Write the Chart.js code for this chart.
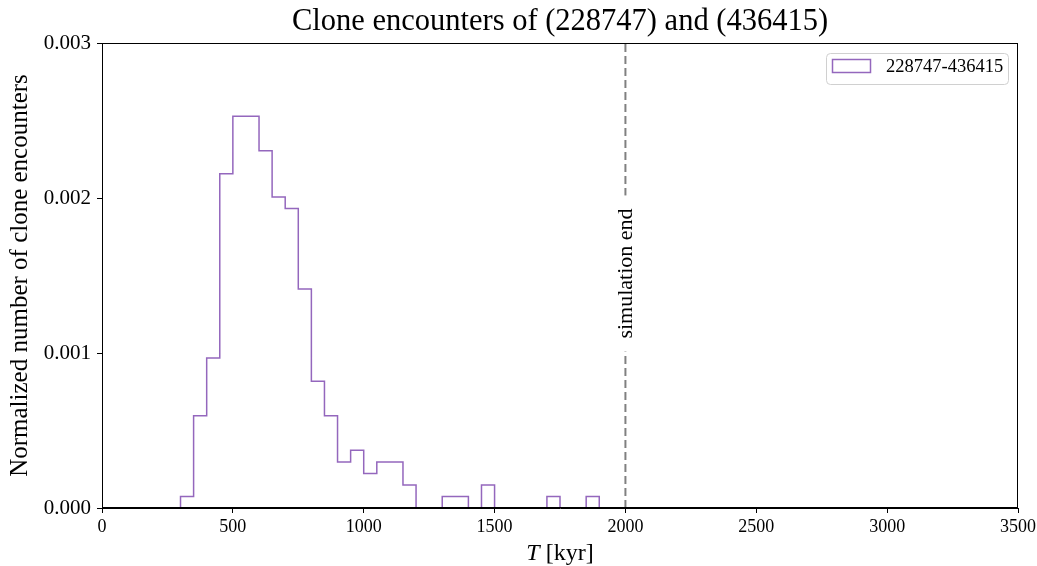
<!DOCTYPE html>
<html>
<head>
<meta charset="utf-8">
<script src="https://cdn.jsdelivr.net/npm/chart.js@4.4.1/dist/chart.umd.min.js"></script>
<style>
  html, body { margin: 0; padding: 0; background: #fff; }
  canvas { display: block; }
</style>
</head>
<body>
<canvas id="chart" width="1037" height="566"></canvas>
<script>
// histogram bins (left edges, width 50 kyr) and normalized counts
const binLeft = [300, 350, 400, 450, 500, 550, 600, 650, 700, 750, 800, 850, 900, 950,
                 1000, 1050, 1100, 1150, 1200, 1250, 1300, 1350, 1400, 1450, 1500,
                 1550, 1600, 1650, 1700, 1750, 1800, 1850];
const binEnd = 1900;
const density = [0.0000743, 0.000595, 0.000967, 0.002156, 0.002528, 0.002528, 0.002305,
                 0.002007, 0.001933, 0.001413, 0.000818, 0.000595, 0.000297, 0.000372,
                 0.000223, 0.000297, 0.000297, 0.000149, 0, 0, 0.0000743, 0.0000743,
                 0, 0.000149, 0, 0, 0, 0, 0.0000743, 0, 0, 0.0000743];
const simEnd = 2000;
const xTicks = [0, 500, 1000, 1500, 2000, 2500, 3000, 3500];
const yTicks = [0, 0.001, 0.002, 0.003];
const seriesLabel = '228747-436415';
const titleText = 'Clone encounters of (228747) and (436415)';

const FONT = "'Liberation Serif', 'Times New Roman', serif";
const purple = '#9467bd';

let steps = [{x: binLeft[0], y: 0}];
binLeft.forEach((x, i) => steps.push({x: x, y: density[i]}));
steps.push({x: binEnd, y: 0});

const extras = {
  id: 'extras',
  afterDatasetsDraw(chart) {
    const ctx = chart.ctx;
    const xs = chart.scales.x, ys = chart.scales.y;
    // label on the simulation-end line
    const px = xs.getPixelForValue(simEnd);
    const py = ys.getPixelForValue((ys.min + ys.max) / 2) - 2;
    ctx.save();
    ctx.font = '22px ' + FONT;
    const tw = ctx.measureText('simulation end').width;
    ctx.fillStyle = '#fff';
    ctx.fillRect(px - 12, py - tw / 2 - 13, 24, tw + 26);
    ctx.translate(px, py);
    ctx.rotate(-Math.PI / 2);
    ctx.fillStyle = '#000';
    ctx.textAlign = 'center';
    ctx.textBaseline = 'middle';
    ctx.fillText('simulation end', 0, 1);
    ctx.restore();
  },
  afterDraw(chart) {
    const ctx = chart.ctx;
    const a = chart.chartArea;
    const cx = (a.left + a.right) / 2;
    ctx.save();
    // frame
    ctx.strokeStyle = '#000';
    ctx.lineWidth = 1;
    ctx.strokeRect(Math.round(a.left) + 0.5, Math.round(a.top) + 0.5,
                   Math.round(a.right - a.left) - 1, Math.round(a.bottom - a.top) - 1);

    // title, centred over the plot area
    ctx.fillStyle = '#000';
    ctx.font = '30.5px ' + FONT;
    ctx.textAlign = 'center';
    ctx.textBaseline = 'middle';
    ctx.fillText(titleText, cx, 22);

    // legend
    const bw = 182, bh = 31;
    const bx = a.right - 10 - bw, by = a.top + 10;
    ctx.beginPath();
    ctx.roundRect(bx + 0.5, by + 0.5, bw, bh, 4);
    ctx.fillStyle = 'rgba(255,255,255,0.8)';
    ctx.fill();
    ctx.strokeStyle = '#d0d0d0';
    ctx.lineWidth = 1;
    ctx.stroke();
    const ds = chart.data.datasets[0];
    ctx.strokeStyle = ds.borderColor;
    ctx.lineWidth = 1.5;
    ctx.strokeRect(bx + 6.5, by + 6.5, 38, 13);
    ctx.fillStyle = '#000';
    ctx.font = '18.5px ' + FONT;
    ctx.textBaseline = 'middle';
    ctx.textAlign = 'left';
    ctx.fillText(ds.label, bx + 60, by + 14);

    // x axis title with italic T
    ctx.font = 'italic 24px ' + FONT;
    const w1 = ctx.measureText('T').width;
    ctx.font = '24px ' + FONT;
    const w2 = ctx.measureText(' [kyr]').width;
    const ty = 554;
    ctx.font = 'italic 24px ' + FONT;
    ctx.fillText('T', cx - (w1 + w2) / 2, ty);
    ctx.font = '24px ' + FONT;
    ctx.fillText(' [kyr]', cx - (w1 + w2) / 2 + w1, ty);
    ctx.restore();
  }
};

new Chart(document.getElementById('chart').getContext('2d'), {
  type: 'line',
  data: {
    datasets: [{
      label: seriesLabel,
      data: steps,
      stepped: 'before',
      borderColor: purple,
      borderWidth: 1.5,
      pointRadius: 0,
      fill: false,
      order: 1
    }, {
      label: 'simulation end',
      data: [{x: simEnd, y: yTicks[0]}, {x: simEnd, y: yTicks[yTicks.length - 1]}],
      borderColor: '#808080',
      borderWidth: 2,
      borderDash: [8, 4],
      pointRadius: 0,
      fill: false,
      order: 2
    }]
  },
  options: {
    responsive: false,
    animation: false,
    devicePixelRatio: 1,
    layout: { padding: { left: 0, right: 19, top: 43, bottom: 0 } },
    plugins: {
      legend: { display: false },
      tooltip: { enabled: false },
      title: { display: false }
    },
    scales: {
      x: {
        type: 'linear',
        min: xTicks[0],
        max: xTicks[xTicks.length - 1],
        afterBuildTicks(scale) { scale.ticks = xTicks.map(v => ({value: v})); },
        afterFit(scale) {
          scale.height = 58;
          scale.paddingLeft = 0;
          scale.paddingRight = 0;
        },
        ticks: {
          color: '#000',
          font: { family: FONT, size: 18 },
          padding: 3,
          maxRotation: 0,
          callback: v => String(v)
        },
        grid: { drawOnChartArea: false, drawTicks: true, tickLength: 5, color: '#000' },
        border: { color: '#000' }
      },
      y: {
        type: 'linear',
        min: yTicks[0],
        max: yTicks[yTicks.length - 1],
        afterBuildTicks(scale) { scale.ticks = yTicks.map(v => ({value: v})); },
        afterFit(scale) { scale.width = 102; },
        ticks: {
          color: '#000',
          font: { family: FONT, size: 21 },
          padding: 6,
          callback: v => Number(v).toFixed(3)
        },
        grid: { drawOnChartArea: false, drawTicks: true, tickLength: 5, color: '#000' },
        border: { color: '#000' },
        title: {
          display: true,
          text: 'Normalized number of clone encounters',
          color: '#000',
          font: { family: FONT, size: 25 },
          padding: { top: 5, bottom: 0 }
        }
      }
    }
  },
  plugins: [extras]
});
</script>
</body>
</html>
